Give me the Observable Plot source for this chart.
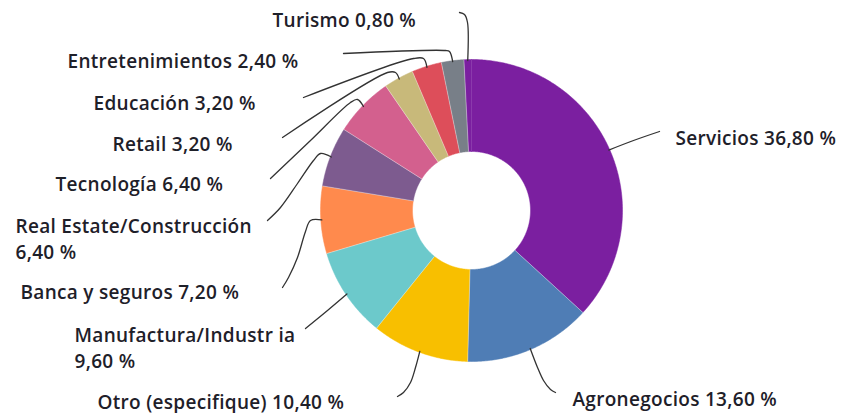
<!DOCTYPE html>
<html><head><meta charset="utf-8">
<script src="https://cdn.jsdelivr.net/npm/d3@7"></script>
<script src="https://cdn.jsdelivr.net/npm/@observablehq/plot@0.6"></script>
<style>body{margin:0;background:#fff} #chart{width:841px;height:413px} #chart svg text{letter-spacing:0.3px}</style>
</head><body><div id="chart"></div>
<script>
// ---- data ----
const categories = ["Servicios","Agronegocios","Otro (especifique)","Manufactura/Industr ia","Banca y seguros","Real Estate/Construcción","Tecnología","Retail","Educación","Entretenimientos","Turismo"];
const values = [36.8, 13.6, 10.4, 9.6, 7.2, 6.4, 6.4, 3.2, 3.2, 2.4, 0.8];
const colors = ["#7b1fa0","#4f7db5","#f8bf00","#6cc9cb","#ff8a4d","#7d5b8f","#d3608e","#c8b97a","#dd4e5a","#787f88","#7b1fa0"];

// ---- layout ----
const W = 841, H = 413, CX = 471, CY = 210, R_OUT = 151, R_IN = 59;
const labelPos = [[675,144],[572,405],[97,408],[74,367],[20,298],[15,258],[55,190],[112,150],[93,109],[67,67],[272,26]];
const labelBreak = [false,false,false,true,false,true,false,false,false,false,false];
const leaderPaths = [
  [[633,140],[659,131]],
  [[537,367],[543,380],[550,389],[555,392]],
  [[415,367],[410,382],[403,392],[397,396]],
  [[327,310],[305,328]],
  [[310,220],[305,231],[297,257],[288,277],[282,287]],
  [[320,153],[313,160],[297,183],[280,207],[267,220]],
  [[357,99],[350,102],[310,140],[270,178]],
  [[395,72],[387,72],[282,137]],
  [[423,58],[413,58],[303,97]],
  [[449,51],[445,50],[343,53]],
  [[467,22],[464,14],[459,12]]
];

const fmt = v => d3.format(".2f")(v).replace(".", ",") + " %";

const slicePts = [];
const leaderPts = [];
const sepPts = [];
let cum = 0;
categories.forEach((c, i) => {
  const a0 = cum / 100 * 2 * Math.PI;
  cum += values[i];
  const a1 = cum / 100 * 2 * Math.PI;
  const n = Math.max(2, Math.ceil((a1 - a0) / 0.01));
  const pts = [];
  for (let k = 0; k <= n; k++) { const a = a0 + (a1 - a0) * k / n; pts.push([CX + R_OUT * Math.sin(a), CY - R_OUT * Math.cos(a)]); }
  for (let k = n; k >= 0; k--) { const a = a0 + (a1 - a0) * k / n; pts.push([CX + R_IN * Math.sin(a), CY - R_IN * Math.cos(a)]); }
  pts.forEach(([x, y]) => slicePts.push({name: c, color: colors[i], x, y}));
  // separator at the end of each slice, except where colours repeat
  const next = (i + 1) % categories.length;
  if (colors[next] !== colors[i]) {
    sepPts.push({id: c, x: CX + R_IN * Math.sin(a1), y: CY - R_IN * Math.cos(a1)});
    sepPts.push({id: c, x: CX + R_OUT * Math.sin(a1), y: CY - R_OUT * Math.cos(a1)});
  }
  const am = (a0 + a1) / 2;
  leaderPts.push({name: c, x: CX + (R_OUT - 1) * Math.sin(am), y: CY - (R_OUT - 1) * Math.cos(am)});
  leaderPaths[i].forEach(([x, y]) => leaderPts.push({name: c, x, y}));
});

const labels = categories.map((c, i) => ({
  x: labelPos[i][0], y: labelPos[i][1],
  text: c + (labelBreak[i] ? "\n" : " ") + fmt(values[i])
}));

const chart = Plot.plot({
  width: W, height: H, margin: 0,
  x: {domain: [0, W], range: [0, W], axis: null},
  y: {domain: [0, H], range: [0, H], axis: null},
  color: {type: "identity"},
  style: {background: "#fff", fontFamily: "Open Sans"},
  marks: [
    Plot.line(slicePts, {x: "x", y: "y", z: "name", fill: "color", stroke: "color", strokeWidth: 0.5}),
    Plot.line(sepPts, {x: "x", y: "y", z: "id", stroke: "white", strokeWidth: 0.7, strokeOpacity: 0.55}),
    Plot.line(leaderPts, {x: "x", y: "y", z: "name", stroke: "#333", strokeWidth: 1.3, curve: "catmull-rom"}),
    Plot.text(labels, {x: "x", y: "y", text: "text", textAnchor: "start", lineAnchor: "bottom", lineHeight: 1.32,
      fontSize: 19, fontWeight: 600, fill: "#1e2029", fontFamily: "Open Sans"})
  ]
});
document.getElementById("chart").appendChild(chart);
</script>
</body></html>
